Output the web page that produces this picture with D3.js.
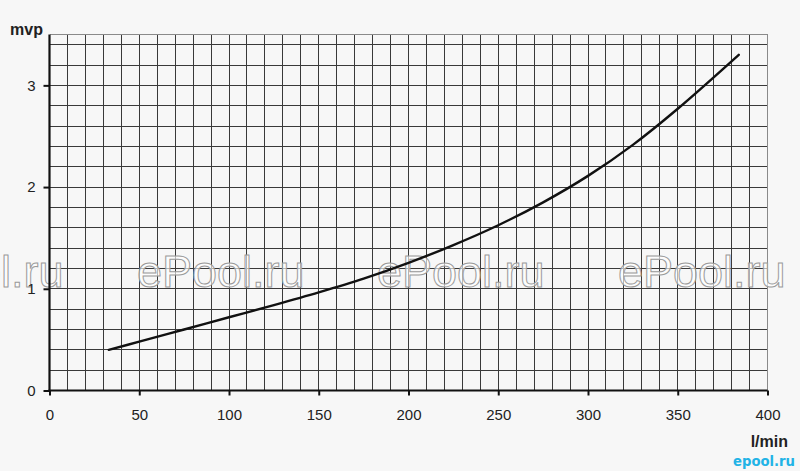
<!DOCTYPE html>
<html><head><meta charset="utf-8">
<script src="https://cdn.jsdelivr.net/npm/d3@7"></script>
<style>html,body{margin:0;padding:0;background:#f7f7f7;} svg{display:block;}</style>
</head><body><svg id="c" width="800" height="471"></svg>
<script>
// ---- data ----
const flow = [33, 50, 75, 100, 125, 150, 175, 200, 225, 250, 275, 300, 325, 350, 384];
const head = [0.40, 0.48, 0.60, 0.72, 0.84, 0.965, 1.10, 1.255, 1.43, 1.625, 1.85, 2.11, 2.415, 2.77, 3.30];
const xTicks = [0, 50, 100, 150, 200, 250, 300, 350, 400];
const yTicks = [0, 1, 2, 3];
const xTitle = "l/min";
const yTitle = "mvp";
const watermark = "ePool.ru";
const logo = "epool.ru";

// ---- layout ----
const svg = d3.select("#c");
const m = {l: 49.5, r: 767.5, t: 34.5, b: 390.5};
const x = d3.scaleLinear().domain([0, 400]).range([m.l, m.r]);
const y = d3.scaleLinear().domain([0, 3.5]).range([m.b, m.t]);
const font = "'Liberation Sans', Arial, sans-serif";

svg.append("rect").attr("width", 800).attr("height", 471).attr("fill", "#f7f7f7");

// grid
const g = svg.append("g").attr("shape-rendering", "crispEdges");
const vx = d3.range(1, 40).map(i => i * 10);
g.selectAll("line.v").data(vx).join("line")
  .attr("x1", d => x(d)).attr("x2", d => x(d))
  .attr("y1", y(0)).attr("y2", y(3.5))
  .attr("stroke", "#3a3a3a").attr("stroke-width", 1);
const hy = d3.range(1, 18).map(i => i * 0.2);
g.selectAll("line.h").data(hy).join("line")
  .attr("x1", x(0)).attr("x2", x(400))
  .attr("y1", d => y(d)).attr("y2", d => y(d))
  .attr("stroke", "#3a3a3a").attr("stroke-width", 1);
// top / right border
g.append("line").attr("x1", x(0)).attr("x2", x(400)).attr("y1", y(3.5)).attr("y2", y(3.5))
  .attr("stroke", "#8a8a8a").attr("stroke-width", 1.5);
g.append("line").attr("x1", x(400)).attr("x2", x(400)).attr("y1", y(0)).attr("y2", y(3.5))
  .attr("stroke", "#8a8a8a").attr("stroke-width", 1.5);

// watermarks
const wmX = [-104, 137, 377, 618];
svg.append("g").selectAll("text").data(wmX).join("text")
  .attr("x", d => d).attr("y", 287)
  .attr("font-family", font).attr("font-size", 45)
  .attr("fill", "#ffffff").attr("fill-opacity", 0.65)
  .attr("stroke", "#9a9a9a").attr("stroke-width", 1)
  .text(watermark);

// axes
const ax = svg.append("g").attr("transform", `translate(0,${y(0)})`)
  .call(d3.axisBottom(x).tickValues(xTicks).tickSize(5).tickSizeOuter(0).tickPadding(14));
const ay = svg.append("g").attr("transform", `translate(${x(0)},0)`)
  .call(d3.axisLeft(y).tickValues(yTicks).tickSize(6).tickSizeOuter(0).tickPadding(8).tickFormat(d3.format("d")));
[ax, ay].forEach(a => {
  a.select(".domain").attr("stroke", "#111").attr("stroke-width", 2.2);
  a.selectAll(".tick line").attr("stroke", "#111").attr("stroke-width", 2);
  a.selectAll(".tick text").attr("font-family", font).attr("font-size", 15).attr("fill", "#222");
});
ay.select(".domain").attr("d", `M0,${y(0) + 1}V${y(3.5)}`);
ax.select(".domain").attr("d", `M-1,0H${x(400) - x(0)}`).attr("transform", `translate(${x(0)},0)`);

// curve
const pts = flow.map((f, i) => [f, head[i]]);
svg.append("path").datum(pts)
  .attr("fill", "none").attr("stroke", "#111").attr("stroke-width", 2.4)
  .attr("stroke-linecap", "round")
  .attr("d", d3.line().x(d => x(d[0])).y(d => y(d[1])).curve(d3.curveCatmullRom.alpha(0.5)));

// titles
svg.append("text").attr("x", 43).attr("y", 35).attr("text-anchor", "end")
  .attr("font-family", font).attr("font-weight", "bold").attr("font-size", 16).attr("fill", "#222")
  .text(yTitle);
svg.append("text").attr("x", 788).attr("y", 446.5).attr("text-anchor", "end")
  .attr("font-family", font).attr("font-weight", "bold").attr("font-size", 16).attr("fill", "#222")
  .text(xTitle);

// logo
svg.append("text").attr("x", 733).attr("y", 466)
  .attr("font-family", "'DejaVu Sans', sans-serif").attr("font-weight", "bold").attr("font-size", 14)
  .attr("textLength", 62).attr("lengthAdjust", "spacingAndGlyphs")
  .attr("fill", "#22b3e6")
  .text(logo);
</script></body></html>
